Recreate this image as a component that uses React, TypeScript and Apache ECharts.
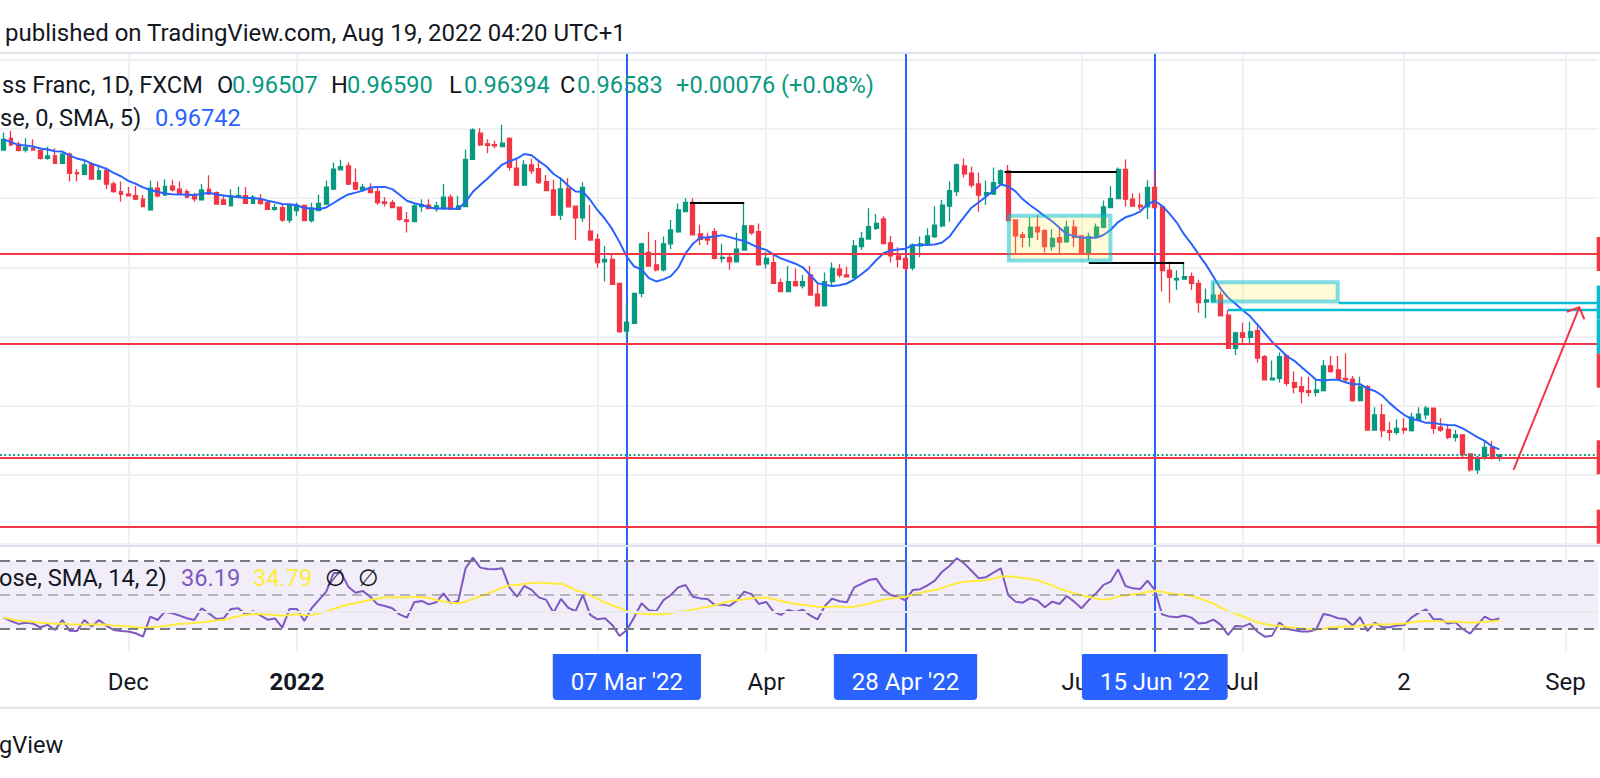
import React, { useEffect, useRef } from "react";
import * as echarts from "echarts";

// ---------- data ----------
const startDate = "2021-11-08";
const slotCount = 218; // daily slots incl. empty space on the right

const opens = [
  1.0539, 1.0573, 1.0556, 1.0539, 1.0544, 1.0538, 1.0515, 1.0522, 1.0501, 1.0527,
  1.0474, 1.0469, 1.0499, 1.0455, 1.0480, 1.0441, 1.0419, 1.0412, 1.0407, 1.0397,
  1.0366, 1.0429, 1.0409, 1.0435, 1.0426, 1.0419, 1.0405, 1.0395, 1.0426, 1.0416,
  1.0395, 1.0378, 1.0403, 1.0407, 1.0385, 1.0397, 1.0387, 1.0368, 1.0373, 1.0337,
  1.0364, 1.0379, 1.0335, 1.0364, 1.0383, 1.0426, 1.0482, 1.0493, 1.0445, 1.0424,
  1.0426, 1.0419, 1.0389, 1.0387, 1.0374, 1.0337, 1.0332, 1.0376, 1.0380, 1.0374,
  1.0369, 1.0403, 1.0368, 1.0376, 1.0512, 1.0588, 1.0557, 1.0555, 1.0549, 1.0573,
  1.0487, 1.0438, 1.0496, 1.0485, 1.0448, 1.0424, 1.0351, 1.0427, 1.0377, 1.0343,
  1.0305, 1.0281, 1.0216, 1.0223, 1.0154, 1.0016, 1.0038, 1.0125, 1.0243, 1.0207,
  1.0193, 1.0268, 1.0303, 1.0361, 1.0388, 1.0297, 1.0284, 1.0303, 1.0226, 1.0229,
  1.0216, 1.0250, 1.0320, 1.0303, 1.0210, 1.0214, 1.0156, 1.0130, 1.0159, 1.0147,
  1.0178, 1.0123, 1.0089, 1.0159, 1.0195, 1.0178, 1.0171, 1.0260, 1.0282, 1.0313,
  1.0340, 1.0271, 1.0233, 1.0226, 1.0199, 1.0262, 1.0265, 1.0289, 1.0320, 1.0377,
  1.0419, 1.0493, 1.0472, 1.0441, 1.0409, 1.0412, 1.0443, 1.0479, 1.0337, 1.0294,
  1.0287, 1.0316, 1.0306, 1.0260, 1.0286, 1.0274, 1.0316, 1.0291, 1.0241, 1.0287,
  1.0316, 1.0373, 1.0399, 1.0483, 1.0397, 1.0380, 1.0375, 1.0431, 1.0375, 1.0192,
  1.0164, 1.0166, 1.0173, 1.0154, 1.0100, 1.0101, 1.0120, 1.0062, 0.9966, 1.0011,
  0.9998, 1.0017, 0.9942, 0.9875, 0.9879, 0.9944, 0.9867, 0.9855, 0.9844, 0.9839,
  0.9844, 0.9915, 0.9904, 0.9879, 0.9877, 0.9815, 0.9855, 0.9730, 0.9774, 0.9728,
  0.9723, 0.9735, 0.9728, 0.9759, 0.9774, 0.9793, 0.9738, 0.9732, 0.9709, 0.9716,
  0.9661, 0.9615, 0.9648, 0.9680, 0.96507,
];

const highs = [
  1.0590, 1.0595, 1.0564, 1.0573, 1.0570, 1.0541, 1.0549, 1.0544, 1.0532, 1.0532,
  1.0484, 1.0512, 1.0503, 1.0493, 1.0489, 1.0448, 1.0448, 1.0432, 1.0435, 1.0409,
  1.0451, 1.0448, 1.0455, 1.0453, 1.0448, 1.0426, 1.0416, 1.0441, 1.0466, 1.0419,
  1.0409, 1.0426, 1.0434, 1.0432, 1.0409, 1.0412, 1.0393, 1.0383, 1.0382, 1.0383,
  1.0387, 1.0382, 1.0387, 1.0411, 1.0451, 1.0503, 1.0511, 1.0504, 1.0486, 1.0441,
  1.0443, 1.0435, 1.0403, 1.0395, 1.0376, 1.0360, 1.0385, 1.0397, 1.0397, 1.0390,
  1.0441, 1.0411, 1.0407, 1.0541, 1.0602, 1.0602, 1.0570, 1.0566, 1.0612, 1.0576,
  1.0510, 1.0510, 1.0515, 1.0510, 1.0467, 1.0453, 1.0460, 1.0458, 1.0377, 1.0446,
  1.0380, 1.0297, 1.0262, 1.0236, 1.0156, 1.0098, 1.0127, 1.0271, 1.0303, 1.0279,
  1.0289, 1.0337, 1.0385, 1.0400, 1.0400, 1.0323, 1.0300, 1.0313, 1.0268, 1.0236,
  1.0300, 1.0385, 1.0320, 1.0327, 1.0245, 1.0241, 1.0168, 1.0204, 1.0197, 1.0178,
  1.0204, 1.0152, 1.0185, 1.0214, 1.0210, 1.0202, 1.0279, 1.0303, 1.0371, 1.0354,
  1.0348, 1.0291, 1.0258, 1.0241, 1.0269, 1.0289, 1.0313, 1.0377, 1.0395, 1.0448,
  1.0500, 1.0515, 1.0491, 1.0474, 1.0451, 1.0489, 1.0483, 1.0496, 1.0337, 1.0303,
  1.0345, 1.0351, 1.0310, 1.0310, 1.0313, 1.0335, 1.0337, 1.0291, 1.0300, 1.0327,
  1.0393, 1.0435, 1.0489, 1.0512, 1.0414, 1.0414, 1.0452, 1.0479, 1.0375, 1.0217,
  1.0192, 1.0215, 1.0185, 1.0164, 1.0139, 1.0159, 1.0130, 1.0077, 1.0014, 1.0040,
  1.0043, 1.0031, 0.9947, 0.9931, 0.9954, 0.9950, 0.9899, 0.9884, 0.9884, 0.9877,
  0.9932, 0.9944, 0.9944, 0.9952, 0.9886, 0.9884, 0.9860, 0.9796, 0.9805, 0.9754,
  0.9761, 0.9764, 0.9780, 0.9796, 0.9800, 0.9793, 0.9764, 0.9745, 0.9730, 0.9716,
  0.9663, 0.9655, 0.9701, 0.9699, 0.96590,
];

const lows = [
  1.0538, 1.0551, 1.0535, 1.0532, 1.0538, 1.0512, 1.0511, 1.0499, 1.0499, 1.0448,
  1.0448, 1.0467, 1.0453, 1.0453, 1.0426, 1.0416, 1.0390, 1.0405, 1.0395, 1.0374,
  1.0364, 1.0403, 1.0407, 1.0419, 1.0409, 1.0400, 1.0390, 1.0393, 1.0409, 1.0381,
  1.0380, 1.0376, 1.0400, 1.0383, 1.0383, 1.0382, 1.0366, 1.0364, 1.0332, 1.0328,
  1.0349, 1.0333, 1.0330, 1.0363, 1.0381, 1.0424, 1.0480, 1.0438, 1.0424, 1.0419,
  1.0414, 1.0381, 1.0376, 1.0371, 1.0335, 1.0301, 1.0331, 1.0361, 1.0368, 1.0361,
  1.0366, 1.0366, 1.0366, 1.0374, 1.0511, 1.0551, 1.0530, 1.0544, 1.0547, 1.0480,
  1.0435, 1.0435, 1.0470, 1.0441, 1.0421, 1.0351, 1.0337, 1.0374, 1.0279, 1.0332,
  1.0277, 1.0199, 1.0159, 1.0149, 1.0014, 0.9992, 1.0036, 1.0114, 1.0202, 1.0188,
  1.0188, 1.0253, 1.0300, 1.0359, 1.0292, 1.0265, 1.0265, 1.0223, 1.0214, 1.0193,
  1.0215, 1.0248, 1.0294, 1.0207, 1.0197, 1.0152, 1.0130, 1.0130, 1.0147, 1.0139,
  1.0120, 1.0089, 1.0089, 1.0146, 1.0171, 1.0173, 1.0168, 1.0250, 1.0281, 1.0308,
  1.0268, 1.0214, 1.0200, 1.0188, 1.0191, 1.0229, 1.0262, 1.0284, 1.0316, 1.0332,
  1.0406, 1.0460, 1.0431, 1.0361, 1.0380, 1.0409, 1.0438, 1.0335, 1.0241, 1.0258,
  1.0260, 1.0279, 1.0243, 1.0248, 1.0236, 1.0271, 1.0260, 1.0239, 1.0221, 1.0284,
  1.0313, 1.0371, 1.0397, 1.0375, 1.0375, 1.0366, 1.0340, 1.0371, 1.0130, 1.0098,
  1.0135, 1.0164, 1.0135, 1.0069, 1.0053, 1.0098, 1.0058, 0.9966, 0.9947, 0.9979,
  0.9979, 0.9925, 0.9875, 0.9873, 0.9867, 0.9857, 0.9836, 0.9807, 0.9827, 0.9827,
  0.9841, 0.9896, 0.9875, 0.9865, 0.9812, 0.9814, 0.9730, 0.9730, 0.9709, 0.9699,
  0.9716, 0.9719, 0.9725, 0.9757, 0.9761, 0.9719, 0.9725, 0.9703, 0.9697, 0.9651,
  0.9610, 0.9603, 0.9644, 0.9645, 0.96394,
];

const closes = [
  1.0570, 1.0554, 1.0538, 1.0546, 1.0539, 1.0515, 1.0522, 1.0501, 1.0527, 1.0472,
  1.0470, 1.0496, 1.0455, 1.0479, 1.0441, 1.0419, 1.0411, 1.0407, 1.0397, 1.0376,
  1.0429, 1.0407, 1.0434, 1.0424, 1.0412, 1.0403, 1.0398, 1.0424, 1.0412, 1.0383,
  1.0382, 1.0407, 1.0408, 1.0385, 1.0403, 1.0384, 1.0368, 1.0373, 1.0337, 1.0379,
  1.0379, 1.0335, 1.0371, 1.0385, 1.0432, 1.0484, 1.0491, 1.0441, 1.0426, 1.0432,
  1.0416, 1.0387, 1.0385, 1.0373, 1.0339, 1.0333, 1.0378, 1.0381, 1.0370, 1.0378,
  1.0403, 1.0368, 1.0378, 1.0512, 1.0597, 1.0554, 1.0553, 1.0551, 1.0559, 1.0489,
  1.0438, 1.0496, 1.0479, 1.0445, 1.0422, 1.0351, 1.0427, 1.0375, 1.0343, 1.0431,
  1.0279, 1.0214, 1.0223, 1.0151, 1.0014, 1.0042, 1.0125, 1.0268, 1.0204, 1.0193,
  1.0268, 1.0308, 1.0366, 1.0388, 1.0294, 1.0281, 1.0279, 1.0226, 1.0229, 1.0216,
  1.0253, 1.0320, 1.0300, 1.0207, 1.0226, 1.0154, 1.0130, 1.0159, 1.0147, 1.0159,
  1.0120, 1.0089, 1.0159, 1.0197, 1.0178, 1.0173, 1.0262, 1.0284, 1.0318, 1.0327,
  1.0269, 1.0233, 1.0223, 1.0197, 1.0265, 1.0268, 1.0291, 1.0322, 1.0380, 1.0422,
  1.0496, 1.0470, 1.0438, 1.0409, 1.0416, 1.0445, 1.0479, 1.0335, 1.0291, 1.0287,
  1.0316, 1.0303, 1.0260, 1.0284, 1.0273, 1.0316, 1.0287, 1.0241, 1.0289, 1.0316,
  1.0375, 1.0399, 1.0483, 1.0397, 1.0377, 1.0375, 1.0431, 1.0373, 1.0191, 1.0171,
  1.0168, 1.0173, 1.0154, 1.0098, 1.0106, 1.0120, 1.0060, 0.9966, 1.0011, 0.9998,
  1.0014, 0.9938, 0.9875, 0.9880, 0.9942, 0.9865, 0.9853, 0.9841, 0.9839, 0.9846,
  0.9915, 0.9899, 0.9877, 0.9875, 0.9815, 0.9855, 0.9730, 0.9774, 0.9728, 0.9723,
  0.9735, 0.9730, 0.9767, 0.9776, 0.9793, 0.9735, 0.9730, 0.9709, 0.9716, 0.9658,
  0.9615, 0.9651, 0.9680, 0.96507, 0.96583,
];

const rsiValues = [
  36.7, 34.7, 33.0, 33.7, 33.2, 31.0, 32.4, 29.4, 35.3, 29.0,
  28.8, 35.3, 31.4, 35.3, 32.0, 29.4, 28.8, 28.5, 27.5, 25.5,
  37.3, 35.3, 40.2, 39.2, 37.9, 36.3, 35.3, 42.2, 39.2, 35.9,
  36.3, 41.8, 42.2, 38.6, 40.5, 38.0, 35.5, 36.2, 30.8, 41.8,
  41.8, 34.7, 42.2, 47.1, 52.0, 62.8, 63.3, 54.9, 51.3, 52.3,
  49.0, 44.5, 43.5, 42.2, 38.6, 36.7, 45.7, 46.5, 44.5, 45.7,
  51.0, 45.1, 46.5, 65.7, 72.0, 66.1, 65.3, 65.1, 65.7, 54.3,
  49.0, 55.3, 53.0, 48.6, 47.1, 39.6, 47.7, 42.5, 40.5, 50.0,
  38.3, 35.7, 36.3, 32.4, 25.9, 29.4, 36.9, 45.1, 41.0, 40.4,
  47.0, 50.0, 54.5, 55.9, 49.0, 48.0, 47.7, 44.1, 44.4, 43.6,
  46.7, 52.0, 50.5, 44.7, 45.9, 40.2, 38.3, 41.2, 40.0, 41.3,
  38.0, 35.6, 43.6, 47.9, 46.3, 45.7, 54.5, 56.5, 58.8, 59.6,
  53.3, 50.0, 49.0, 46.7, 53.0, 53.4, 55.7, 58.4, 63.7, 67.1,
  71.6, 68.6, 64.3, 59.8, 60.5, 63.2, 65.7, 50.0, 46.1, 45.5,
  48.1, 46.8, 42.8, 46.1, 44.7, 49.4, 46.1, 42.2, 47.0, 51.0,
  55.9, 57.9, 65.1, 55.3, 53.9, 53.5, 58.4, 53.0, 38.6, 37.3,
  36.9, 37.9, 36.7, 33.2, 33.7, 35.5, 32.4, 26.5, 31.8, 31.4,
  33.2, 28.4, 25.5, 26.1, 33.9, 30.0, 29.2, 28.5, 28.5, 29.6,
  38.8, 37.9, 36.3, 35.9, 32.0, 36.9, 28.8, 33.7, 31.2, 31.0,
  32.0, 32.4, 36.7, 39.5, 41.5, 35.8, 35.8, 33.2, 33.9, 30.0,
  27.3, 32.4, 37.3, 35.1, 36.19,
];

const maLength = 9;
const rsiMaLength = 14;

const priceMin = 0.94;
const priceMax = 1.08;
const priceStep = 0.02;
const rsiBand = [30, 70];
const rsiMid = 50;
const rsiGridLevel = 40;

const redLevels = [1.02387, 0.99786, 0.96512, 0.94506];
const markerDates = ["2022-03-07", "2022-04-28", "2022-06-15"];
const monthLineDates = ["2021-12-01", "2022-01-03", "2022-03-01", "2022-04-01", "2022-06-01", "2022-07-01", "2022-08-02", "2022-09-01"];
const tickLabels = [
  { date: "2021-12-01", text: "Dec", kind: "plain" },
  { date: "2022-01-03", text: "2022", kind: "bold" },
  { date: "2022-03-07", text: "07 Mar '22", kind: "box" },
  { date: "2022-04-01", text: "Apr", kind: "plain" },
  { date: "2022-04-28", text: "28 Apr '22", kind: "box" },
  { date: "2022-06-01", text: "Jun", kind: "plain" },
  { date: "2022-06-15", text: "15 Jun '22", kind: "box" },
  { date: "2022-07-01", text: "Jul", kind: "plain" },
  { date: "2022-08-02", text: "2", kind: "plain" },
  { date: "2022-09-01", text: "Sep", kind: "plain" },
];
// drawings: [fromIndex, toIndex, price]
const blackLevels = [
  [136.5, 151.8, 1.04757],
  [148.0, 161.0, 1.02135],
  [93.6, 101.0, 1.03869],
];
// zones: [x1, price1, x2, price2]
const zones = [
  [137.1, 1.03491, 150.95, 1.02199],
  [164.9, 1.01569, 181.95, 1.01015],
];
const cyanRays = [
  [182.1, 1.0098],
  [167.0, 1.00768],
];
const arrowLine = [[205.93, 0.96145], [214.9, 1.00846]];
const arrowHead = [[213.2, 1.00719], [214.9, 1.00846], [215.59, 1.005]];

// ---------- helpers ----------
function weekdays(start: string, count: number): string[] {
  const out: string[] = [];
  const d = new Date(start + "T00:00:00Z");
  while (out.length < count) {
    const wd = d.getUTCDay();
    if (wd !== 0 && wd !== 6) out.push(d.toISOString().slice(0, 10));
    d.setUTCDate(d.getUTCDate() + 1);
  }
  return out;
}
function sma(arr: number[], n: number): number[] {
  return arr.map((_, i) => {
    const s = Math.max(0, i - n + 1);
    let t = 0;
    for (let k = s; k <= i; k++) t += arr[k];
    return t / (i - s + 1);
  });
}

const RED = "#F23645";
const GREEN = "#089981";
const BLUE = "#2962FF";
const TEXT = "#131722";
const GRID = "#F0F1F4";
const FONT = "Roboto";
const FS = 23.6;

const BAR = 7.35;
const firstBarX = -0.25;
const gridLeft = firstBarX - BAR / 2;
const gridWidth = BAR * slotCount;

export default function App() {
  const ref = useRef<HTMLDivElement>(null);
  useEffect(() => {
    const dates = weekdays(startDate, slotCount);
    const idx = (d: string) => dates.indexOf(d);
    const candles = opens.map((o, i) => [o, closes[i], lows[i], highs[i]]);
    const ma = sma(closes, maLength);
    const rsiMa = sma(rsiValues, rsiMaLength);
    const last = closes.length - 1;
    const lastClose = closes[last];
    const change = lastClose - closes[last - 1];
    const pct = (change / closes[last - 1]) * 100;

    const tickMap: Record<string, { text: string; kind: string }> = {};
    tickLabels.forEach((t) => (tickMap[t.date] = t));

    const xEnd = slotCount - 0.5;
    const chart = echarts.init(ref.current!, null, { renderer: "svg", width: 1600, height: 778 });

    const labelBase = { fontSize: 24, fontFamily: FONT, color: TEXT, lineHeight: 28, padding: [16, 0, 6, 0] };

    const option: any = {
      animation: false,
      backgroundColor: "#ffffff",
      grid: [
        { left: gridLeft, top: 59.78, width: gridWidth, height: 484.42 },
        { left: gridLeft, top: 546, width: gridWidth, height: 106 },
        { left: gridLeft, top: 53, width: gridWidth, height: 599 },
      ],
      xAxis: [
        { type: "category", gridIndex: 0, data: dates, boundaryGap: true, show: false },
        { type: "value", gridIndex: 0, min: -0.5, max: xEnd, show: false },
        {
          type: "category", gridIndex: 1, data: dates, boundaryGap: true,
          axisLine: { show: false }, axisTick: { show: false }, splitLine: { show: false },
          axisLabel: {
            interval: 0, margin: 11, hideOverlap: false,
            formatter: (v: string) => {
              const t = tickMap[v];
              return t ? `{${t.kind}|${t.text}}` : "";
            },
            rich: {
              plain: { ...labelBase },
              bold: { ...labelBase, fontWeight: "bold" },
              box: { ...labelBase, color: "#ffffff", backgroundColor: BLUE, padding: [16, 18, 6, 18], borderRadius: [0, 0, 4, 4] },
            },
          },
        },
        { type: "value", gridIndex: 2, min: -0.5, max: xEnd, show: false },
      ],
      yAxis: [
        {
          type: "value", gridIndex: 0, min: priceMin, max: priceMax, interval: priceStep,
          axisLabel: { show: false }, axisLine: { show: false }, axisTick: { show: false },
          splitLine: { show: true, lineStyle: { color: GRID, width: 2 } },
        },
        { type: "value", gridIndex: 1, min: 16.47, max: 78.82, show: false },
        { type: "value", gridIndex: 2, min: 0, max: 1, show: false },
      ],
      series: [
        {
          type: "lines", coordinateSystem: "cartesian2d", xAxisIndex: 3, yAxisIndex: 2, z: 1, silent: true,
          lineStyle: { color: GRID, width: 2, opacity: 1 },
          data: monthLineDates.map((d) => ({ coords: [[idx(d), 0], [idx(d), 1]] })),
        },
        {
          type: "lines", coordinateSystem: "cartesian2d", xAxisIndex: 3, yAxisIndex: 2, z: 1, silent: true,
          lineStyle: { color: BLUE, width: 2, opacity: 1 },
          data: markerDates.map((d) => ({ coords: [[idx(d), 0], [idx(d), 1]] })),
        },
        {
          type: "candlestick", xAxisIndex: 0, yAxisIndex: 0, z: 2, barWidth: 4.4, silent: true,
          itemStyle: { color: GREEN, color0: RED, borderColor: GREEN, borderColor0: RED, borderWidth: 1.3 },
          data: candles,
        },
        {
          type: "line", xAxisIndex: 0, yAxisIndex: 0, z: 3, showSymbol: false, silent: true,
          lineStyle: { color: BLUE, width: 2 }, data: ma,
        },
        {
          type: "lines", coordinateSystem: "cartesian2d", xAxisIndex: 1, yAxisIndex: 0, z: 4, silent: true,
          lineStyle: { color: RED, width: 2, opacity: 1 },
          data: redLevels.map((v) => ({ coords: [[-0.5, v], [xEnd, v]] })),
        },
        {
          type: "lines", coordinateSystem: "cartesian2d", xAxisIndex: 1, yAxisIndex: 0, z: 4, silent: true,
          lineStyle: { color: GREEN, width: 1.8, type: [1.8, 2.6], opacity: 1 },
          data: [{ coords: [[-0.5, lastClose], [xEnd, lastClose]] }],
        },
        {
          type: "lines", coordinateSystem: "cartesian2d", xAxisIndex: 1, yAxisIndex: 0, z: 4, silent: true,
          lineStyle: { color: "#000000", width: 2, opacity: 1 },
          data: blackLevels.map((b) => ({ coords: [[b[0], b[2]], [b[1], b[2]]] })),
        },
        {
          type: "custom", xAxisIndex: 1, yAxisIndex: 0, z: 5, silent: true,
          data: zones,
          renderItem: (params: any, api: any) => {
            const a = api.coord([api.value(0), api.value(1)]);
            const b = api.coord([api.value(2), api.value(3)]);
            return {
              type: "rect",
              shape: { x: Math.min(a[0], b[0]), y: Math.min(a[1], b[1]), width: Math.abs(b[0] - a[0]), height: Math.abs(b[1] - a[1]) },
              style: { fill: "rgba(255,235,59,0.2)", stroke: "rgba(0,188,212,0.5)", lineWidth: 4 },
            };
          },
        },
        {
          type: "lines", coordinateSystem: "cartesian2d", xAxisIndex: 1, yAxisIndex: 0, z: 6, silent: true,
          lineStyle: { color: "#00BCD4", width: 2.4, opacity: 1 },
          data: cyanRays.map((c) => ({ coords: [[c[0], c[1]], [xEnd, c[1]]] })),
        },
        {
          type: "lines", coordinateSystem: "cartesian2d", xAxisIndex: 1, yAxisIndex: 0, z: 6, silent: true,
          polyline: true,
          lineStyle: { color: RED, width: 2, opacity: 1 },
          data: [{ coords: arrowLine }, { coords: arrowHead }],
        },
        {
          type: "line", xAxisIndex: 2, yAxisIndex: 1, z: 3, showSymbol: false, silent: true,
          lineStyle: { color: "#7E57C2", width: 2 }, data: rsiValues,
          markArea: {
            silent: true,
            itemStyle: { color: "rgba(126,87,194,0.1)" },
            data: [[{ yAxis: rsiBand[0] }, { yAxis: rsiBand[1] }]],
          },
          markLine: {
            silent: true, symbol: ["none", "none"], label: { show: false },
            data: [
              { yAxis: rsiGridLevel, lineStyle: { color: "#E9EAEE", width: 2, type: "solid" } },
              { yAxis: rsiBand[1], lineStyle: { color: "#787B86", width: 2, type: [10, 6] } },
              { yAxis: rsiMid, lineStyle: { color: "rgba(120,123,134,0.5)", width: 2, type: [10, 6] } },
              { yAxis: rsiBand[0], lineStyle: { color: "#787B86", width: 2, type: [10, 6] } },
            ],
          },
        },
        {
          type: "line", xAxisIndex: 2, yAxisIndex: 1, z: 3, showSymbol: false, silent: true,
          lineStyle: { color: "#FFEB3B", width: 2 }, data: rsiMa,
        },
      ],
    };
    chart.setOption(option);

    const txt = (text: string, x: number, y: number, fill: string, extra: any = {}) => ({
      type: "text", x, y, silent: true, z: 20,
      style: { text, fill, fontSize: FS, fontFamily: FONT, verticalAlign: "middle", align: "left", ...extra },
    });
    const sep = (y: number) => ({ type: "rect", silent: true, z: 19, shape: { x: 0, y: y - 1, width: 1600, height: 2 }, style: { fill: "#E0E3EB" } });

    // right-edge price tags (cropped), stacked like the price scale does
    const tags = [
      ...redLevels.map((v) => ({ v, color: RED })),
      ...cyanRays.map((c) => ({ v: c[1], color: "#00BCD4" })),
    ]
      .map((t) => ({ ...t, y: chart.convertToPixel({ yAxisIndex: 0 }, t.v) as number }))
      .sort((a, b) => a.y - b.y);
    let prevBottom = -Infinity;
    const tagEls = tags.map((t) => {
      const top = Math.max(t.y - 17, prevBottom);
      prevBottom = top + 34;
      return { type: "rect", silent: true, z: 21, shape: { x: 1596.7, y: top, width: 20, height: 34 }, style: { fill: t.color } };
    });

    const f5 = (v: number) => v.toFixed(5);
    const graphics: any[] = [
      sep(53), sep(546), sep(707.7),
      txt("published on TradingView.com, Aug 19, 2022 04:20 UTC+1", 5, 33, TEXT, { fontSize: 24 }),
      txt("ss Franc, 1D, FXCM", 2, 85, TEXT),
      txt("O", 217, 85, TEXT), txt(f5(opens[last]), 232, 85, GREEN),
      txt("H", 331, 85, TEXT), txt(f5(highs[last]), 347, 85, GREEN),
      txt("L", 449, 85, TEXT), txt(f5(lows[last]), 464, 85, GREEN),
      txt("C", 560, 85, TEXT), txt(f5(lastClose), 577, 85, GREEN),
      txt(`${change >= 0 ? "+" : ""}${f5(change)} (${change >= 0 ? "+" : ""}${pct.toFixed(2)}%)`, 676, 85, GREEN),
      txt("se, 0, SMA, 5)", 0, 118, TEXT),
      txt(f5(ma[last]), 155, 118, BLUE),
      txt("ose, SMA, 14, 2)", -1, 578, TEXT),
      txt(rsiValues[last].toFixed(2), 181, 578, "#7E57C2"),
      txt(rsiMa[last].toFixed(2), 253, 578, "#FFEB3B"),
      txt("\u2205", 325, 578, TEXT, { fontFamily: "Roboto, DejaVu Sans" }),
      txt("\u2205", 358, 578, TEXT, { fontFamily: "Roboto, DejaVu Sans" }),
      txt("gView", -1, 745, TEXT),
      ...tagEls,
    ];
    chart.setOption({ graphic: graphics });

    return () => chart.dispose();
  }, []);
  return <div ref={ref} style={{ position: "absolute", left: 0, top: 0, width: 1600, height: 778, background: "#fff" }} />;
}
